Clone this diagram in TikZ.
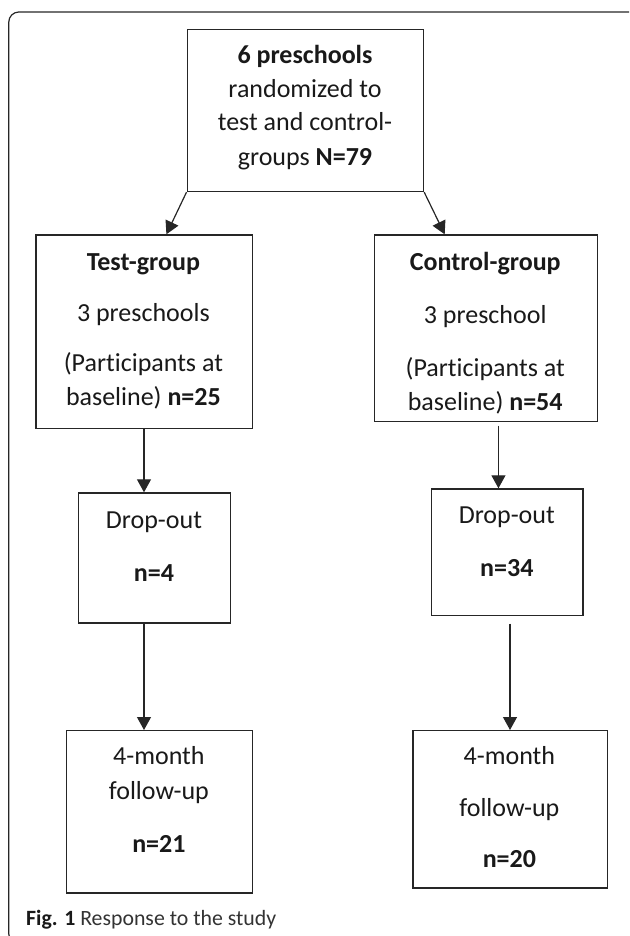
\documentclass[tikz,border=0pt]{standalone}
\usepackage{fontspec}
\setmainfont{Carlito}[Ligatures=NoCommon]
\usetikzlibrary{arrows.meta,calc}
\begin{document}
\begin{tikzpicture}[x=1pt,y=-1pt,
  box/.style={draw=black!85, line width=1.2pt, rectangle, inner sep=0pt, anchor=north west},
  txt/.style={anchor=base, inner sep=0pt, font=\fontsize{26}{34}\selectfont, text=black!90},
  arr/.style={draw=black!85, line width=1.2pt, -{Triangle[width=14pt,length=13pt]}},
]
\useasboundingbox (0,0) rectangle (629,936);
\begin{scope}
\clip (0,0) rectangle (629,936);
\draw[black!85, line width=1.2pt, rounded corners=10pt] (8.8,12) rectangle (640,944);
\end{scope}

% boxes
\node[box, minimum width=236.5pt, minimum height=162pt] (top) at (186.5,29) {};
\node[box, minimum width=216.2pt, minimum height=193.4pt] (test) at (35.3,234.3) {};
\node[box, minimum width=222.5pt, minimum height=186.4pt] (ctrl) at (374,234.3) {};
\node[box, minimum width=151.6pt, minimum height=130pt] (dropL) at (78.2,492.3) {};
\node[box, minimum width=151.2pt, minimum height=126.7pt] (dropR) at (431.2,488.3) {};
\node[box, minimum width=185.3pt, minimum height=162.3pt] (fuL) at (66.2,730) {};
\node[box, minimum width=194.2pt, minimum height=157.3pt] (fuR) at (412.3,730) {};

% texts
\node[txt] (t1) at (305,64) {\textbf{6 preschools}};
\node[txt] (t2) at (305,98) {randomized to};
\node[txt] (t3) at (305,131) {test and control-};
\node[txt] (t4) at (305,166) {groups \textbf{N=79}};

\node[txt] (a1) at (143.4,270) {\textbf{Test-group}};
\node[txt] (a2) at (143.4,321) {3 preschools};
\node[txt] (a3) at (143.4,371) {(Participants at};
\node[txt] (a4) at (143.4,405) {baseline) \textbf{n=25}};

\node[txt] (b1) at (485.2,270) {\textbf{Control-group}};
\node[txt] (b2) at (485.2,323) {3 preschool};
\node[txt] (b3) at (485.2,376) {(Participants at};
\node[txt] (b4) at (485.2,410) {baseline) \textbf{n=54}};

\node[txt] (d1) at (154,528) {Drop-out};
\node[txt] (d2) at (154,581) {\textbf{n=4}};
\node[txt] (e1) at (506.8,523) {Drop-out};
\node[txt] (e2) at (506.8,576) {\textbf{n=34}};

\node[txt] (f1) at (158.9,764) {4-month};
\node[txt] (f2) at (158.9,799) {follow-up};
\node[txt] (f3) at (158.9,852) {\textbf{n=21}};
\node[txt] (g1) at (509.4,764) {4-month};
\node[txt] (g2) at (509.4,816) {follow-up};
\node[txt] (g3) at (509.4,867) {\textbf{n=20}};

\node[anchor=base west, inner sep=0pt, font=\fontsize{21.8}{26}\selectfont, text=black!90] (cap) at (26,925) {\textbf{Fig. 1} {\color{black!80}Response to the study}};

% connectors
\draw[arr] (top.south west) -- ($(test.north west)!0.603!(test.north east)$);
\draw[arr] (top.south east) -- ($(ctrl.north west)!0.316!(ctrl.north east)$);
\draw[arr] (test.south) -- (test.south |- dropL.north);
\draw[arr] (dropL.south -| test.south) -- (test.south |- fuL.north);
\coordinate (c1) at ($(ctrl.south)+(12.6,3.6)$);
\draw[arr] (c1) -- (c1 |- dropR.north);
\coordinate (c2) at ($(dropR.south)+(2.6,7.3)$);
\draw[arr] (c2) -- (c2 |- fuR.north);
\end{tikzpicture}
\end{document}
